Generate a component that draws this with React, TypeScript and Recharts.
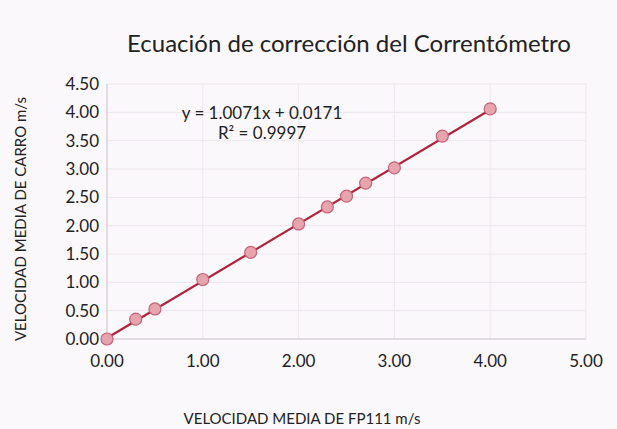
import React from 'react';
import { ScatterChart, Scatter, XAxis, YAxis, CartesianGrid } from 'recharts';

const fp111Speed = [0, 0.3, 0.5, 1.0, 1.5, 2.0, 2.3, 2.5, 2.7, 3.0, 3.5, 4.0];
const carroSpeed = [0, 0.35, 0.53, 1.05, 1.53, 2.03, 2.33, 2.52, 2.75, 3.02, 3.58, 4.06];
const trendX = [0, 4.0];
const trendY = [0.0171, 4.0455];
const xTicks = [0, 1, 2, 3, 4, 5];
const yTicks = [0, 0.5, 1, 1.5, 2, 2.5, 3, 3.5, 4, 4.5];

const points = fp111Speed.map((x, i) => ({ x, y: carroSpeed[i] }));
const trend = trendX.map((x, i) => ({ x, y: trendY[i] }));

const FONT = 'Lato, "Open Sans", sans-serif';

const Dot = (props: any) => {
  const { cx, cy } = props;
  if (cx == null || cy == null) return null;
  return <circle cx={cx} cy={cy} r={6} fill="#e7a4ad" stroke="#c0657a" strokeWidth={1.2} />;
};

const NoDot = () => null;

export default function App() {
  return (
    <div style={{ position: 'absolute', left: 0, top: 0, width: 617, height: 429, background: '#fbf8fb', fontFamily: FONT }}>
      <ScatterChart width={617} height={429} margin={{ top: 84, right: 31, bottom: 60, left: 57 }}>
        <CartesianGrid stroke="#ebe6eb" strokeWidth={1} />
        <XAxis
          type="number"
          dataKey="x"
          domain={[0, 5]}
          ticks={xTicks}
          tickFormatter={(v: number) => v.toFixed(2)}
          tickLine={false}
          axisLine={{ stroke: '#cfc9cf' }}
          tickMargin={10}
          height={30}
          tick={{ fill: '#222', fontSize: 17, fontFamily: FONT }}
        />
        <YAxis
          type="number"
          dataKey="y"
          domain={[0, 4.5]}
          ticks={yTicks}
          tickFormatter={(v: number) => v.toFixed(2)}
          tickLine={false}
          axisLine={{ stroke: '#cfc9cf' }}
          width={50}
          tick={{ fill: '#222', fontSize: 17, fontFamily: FONT }}
        />
        <Scatter
          data={trend}
          line={{ stroke: '#b0233c', strokeWidth: 2.2 }}
          shape={NoDot as any}
          isAnimationActive={false}
        />
        <Scatter data={points} shape={Dot as any} isAnimationActive={false} />
      </ScatterChart>
      <div style={{ position: 'absolute', left: 0, width: 698, top: 28, textAlign: 'center', fontSize: 24, color: '#222', whiteSpace: 'nowrap', lineHeight: '30px' }}>
        Ecuación de corrección del Correntómetro
      </div>
      <div style={{ position: 'absolute', left: 162, width: 200, top: 103, textAlign: 'center', fontSize: 17, color: '#222', lineHeight: '20px' }}>
        <div>y = 1.0071x + 0.0171</div>
        <div>R² = 0.9997</div>
      </div>
      <div style={{ position: 'absolute', left: 102, width: 400, top: 409, textAlign: 'center', fontSize: 15, color: '#222', whiteSpace: 'nowrap', lineHeight: '18px' }}>
        VELOCIDAD MEDIA DE FP111 m/s
      </div>
      <div style={{ position: 'absolute', left: 20 - 150, top: 219 - 9, width: 300, height: 18, textAlign: 'center', fontSize: 15, color: '#222', whiteSpace: 'nowrap', transform: 'rotate(-90deg)', lineHeight: '18px' }}>
        VELOCIDAD MEDIA DE CARRO m/s
      </div>
    </div>
  );
}
